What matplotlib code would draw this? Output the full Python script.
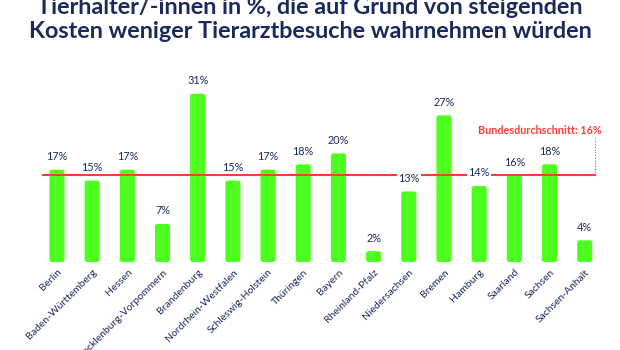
import matplotlib
matplotlib.use('Agg')
import matplotlib.pyplot as plt
from matplotlib.patches import FancyBboxPatch

# data
states = ['Berlin', 'Baden-Württemberg', 'Hessen', 'Mecklenburg-Vorpommern', 'Brandenburg',
          'Nordrhein-Westfalen', 'Schleswig-Holstein', 'Thüringen', 'Bayern', 'Rheinland-Pfalz',
          'Niedersachsen', 'Bremen', 'Hamburg', 'Saarland', 'Sachsen', 'Sachsen-Anhalt']
values = [17, 15, 17, 7, 31, 15, 17, 18, 20, 2, 13, 27, 14, 16, 18, 4]
average = 16
title = 'Tierhalter/-innen in %, die auf Grund von steigenden\nKosten weniger Tierarztbesuche wahrnehmen würden'

NAVY = '#1b2a5c'
GREEN = '#4dff1f'
RED = '#ff3b3b'

plt.rcParams['font.family'] = ['Lato', 'DejaVu Sans']

fig = plt.figure(figsize=(6.2, 3.5), dpi=100)
ax = fig.add_axes([0.0635, 0.2514, 0.908, 0.543])

xs = list(range(len(states)))
bars = ax.bar(xs, values, width=0.43, color=GREEN)
# rounded bar corners
for b in bars:
    b.set_visible(False)
    ax.add_patch(FancyBboxPatch((b.get_x(), 0), b.get_width(), b.get_height(),
                                boxstyle='round,pad=0,rounding_size=0.07',
                                mutation_aspect=6.4, fc=GREEN, ec='none', zorder=2))

ax.plot([-0.4, 15.28], [average, average], color=RED, lw=1.5, zorder=3)
ax.plot([15.28, 15.28], [average, 22.9], color=RED, lw=0.8, ls=(0, (1, 1.5)), zorder=3)
ax.text(15.48, 24.2, 'Bundesdurchschnitt: %d%%' % average, color=RED, fontsize=7.8,
        fontweight='bold', ha='right', va='center')

for x, v in zip(xs, values):
    ax.text(x, v + 1.4, '%d%%' % v, color=NAVY, fontsize=7.8, ha='center', va='bottom', zorder=4,
            bbox=dict(boxstyle='square,pad=0.1', fc='white', ec='none'))

ax.set_xlim(-0.5, 15.5)
ax.set_ylim(0, 35)
ax.set_xticks(xs)
ax.set_xticklabels(states, rotation=45, ha='right', rotation_mode='anchor', color=NAVY, fontsize=7.5)
ax.tick_params(axis='x', length=0, pad=4)
ax.set_yticks([])
for s in ax.spines.values():
    s.set_visible(False)

fig.text(0.5, 0.944, title, ha='center', va='center', fontsize=16.8, fontweight='bold',
         color=NAVY, linespacing=1.22)

fig.savefig('out.png', dpi=100)
